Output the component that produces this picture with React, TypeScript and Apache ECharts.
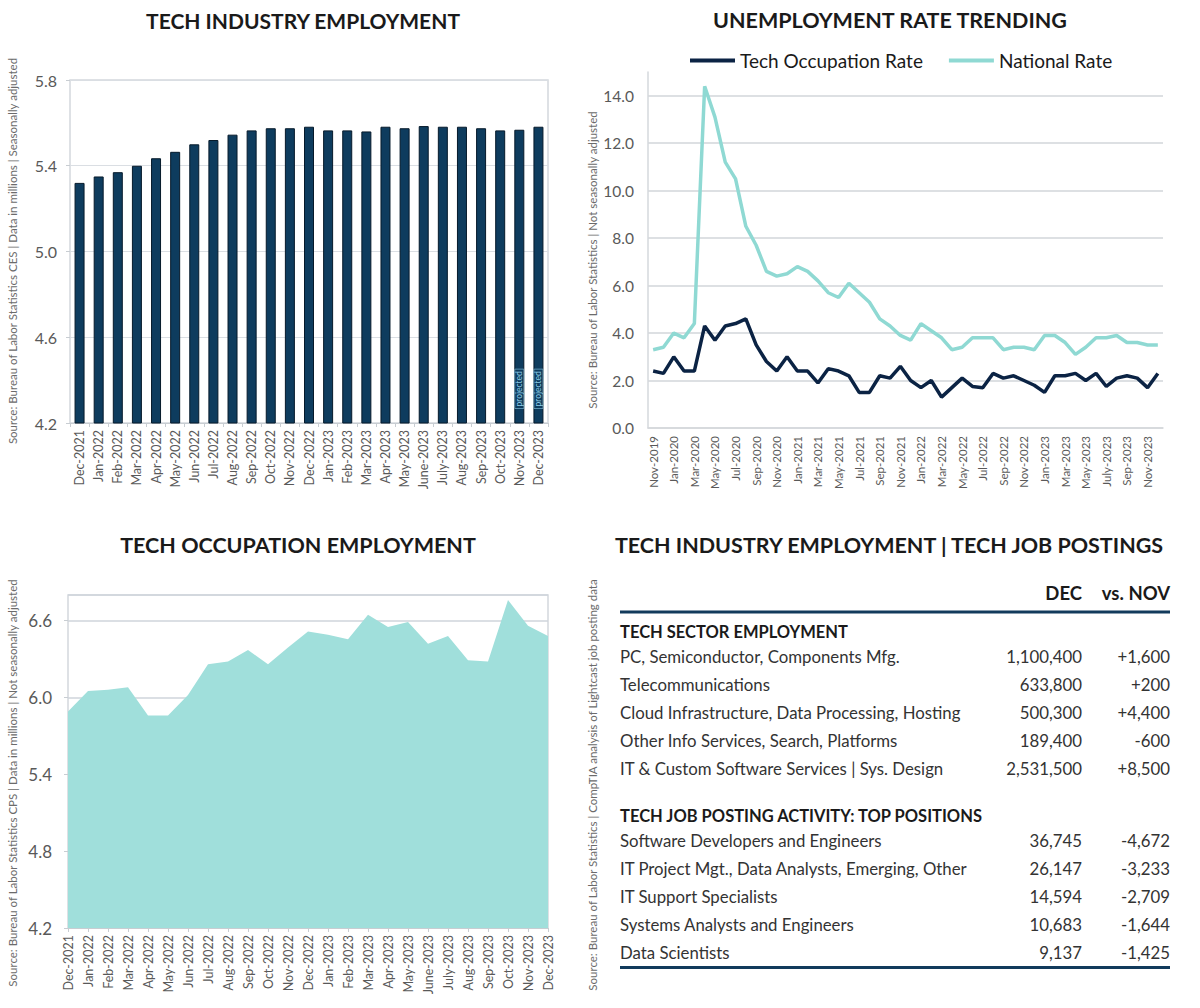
import React, { useEffect, useRef } from "react";
import * as echarts from "echarts";

// ---------- DATA ----------
const empMonths = [
  "Dec-2021", "Jan-2022", "Feb-2022", "Mar-2022", "Apr-2022", "May-2022", "Jun-2022", "Jul-2022",
  "Aug-2022", "Sep-2022", "Oct-2022", "Nov-2022", "Dec-2022", "Jan-2023", "Feb-2023", "Mar-2023",
  "Apr-2023", "May-2023", "June-2023", "July-2023", "Aug-2023", "Sep-2023", "Oct-2023", "Nov-2023", "Dec-2023",
];
const industryEmployment = [
  5.32, 5.35, 5.37, 5.4, 5.435, 5.465, 5.5, 5.52, 5.545, 5.565, 5.575, 5.575, 5.582,
  5.565, 5.565, 5.56, 5.582, 5.575, 5.585, 5.582, 5.582, 5.575, 5.565, 5.568, 5.582,
];
const projectedMonths = ["Nov-2023", "Dec-2023"];

const occupationEmployment = [
  5.89, 6.05, 6.06, 6.08, 5.86, 5.86, 6.02, 6.26, 6.28, 6.37, 6.26, 6.39, 6.515,
  6.49, 6.455, 6.645, 6.55, 6.59, 6.42, 6.48, 6.29, 6.28, 6.76, 6.56, 6.48,
];

const rateMonths = [
  "Nov-2019", "Dec-2019", "Jan-2020", "Feb-2020", "Mar-2020", "Apr-2020", "May-2020", "Jun-2020",
  "Jul-2020", "Aug-2020", "Sep-2020", "Oct-2020", "Nov-2020", "Dec-2020", "Jan-2021", "Feb-2021",
  "Mar-2021", "Apr-2021", "May-2021", "Jun-2021", "Jul-2021", "Aug-2021", "Sep-2021", "Oct-2021",
  "Nov-2021", "Dec-2021", "Jan-2022", "Feb-2022", "Mar-2022", "Apr-2022", "May-2022", "Jun-2022",
  "Jul-2022", "Aug-2022", "Sep-2022", "Oct-2022", "Nov-2022", "Dec-2022", "Jan-2023", "Feb-2023",
  "Mar-2023", "Apr-2023", "May-2023", "Jun-2023", "July-2023", "Aug-2023", "Sep-2023", "Oct-2023",
  "Nov-2023", "Dec-2023",
];
const techRate = [
  2.4, 2.3, 3.0, 2.4, 2.4, 4.3, 3.7, 4.3, 4.4, 4.6,
  3.5, 2.8, 2.4, 3.0, 2.4, 2.4, 1.9, 2.5, 2.4, 2.2,
  1.5, 1.5, 2.2, 2.1, 2.6, 2.0, 1.7, 2.0, 1.3, 1.7,
  2.1, 1.75, 1.7, 2.3, 2.1, 2.2, 2.0, 1.8, 1.5, 2.2,
  2.2, 2.3, 2.0, 2.3, 1.75, 2.1, 2.2, 2.1, 1.7, 2.3,
];
const nationalRate = [
  3.3, 3.4, 4.0, 3.8, 4.4, 14.4, 13.1, 11.2, 10.5, 8.5,
  7.7, 6.6, 6.4, 6.5, 6.8, 6.6, 6.2, 5.7, 5.5, 6.1,
  5.7, 5.3, 4.6, 4.3, 3.9, 3.7, 4.4, 4.1, 3.8, 3.3,
  3.4, 3.8, 3.8, 3.8, 3.3, 3.4, 3.4, 3.3, 3.9, 3.9,
  3.6, 3.1, 3.4, 3.8, 3.8, 3.9, 3.6, 3.6, 3.5, 3.5,
];

const sectorLabels = [
  "PC, Semiconductor, Components Mfg.",
  "Telecommunications",
  "Cloud Infrastructure, Data Processing, Hosting",
  "Other Info Services, Search, Platforms",
  "IT & Custom Software Services | Sys. Design",
];
const sectorDec = ["1,100,400", "633,800", "500,300", "189,400", "2,531,500"];
const sectorChange = ["+1,600", "+200", "+4,400", "-600", "+8,500"];

const postingLabels = [
  "Software Developers and Engineers",
  "IT Project Mgt., Data Analysts, Emerging, Other",
  "IT Support Specialists",
  "Systems Analysts and Engineers",
  "Data Scientists",
];
const postingDec = ["36,745", "26,147", "14,594", "10,683", "9,137"];
const postingChange = ["-4,672", "-3,233", "-2,709", "-1,644", "-1,425"];

// ---------- STYLE ----------
const FONT = "Lato, 'Open Sans', sans-serif";
const NAVY = "#0e3c5e";
const DARK = "#0b2344";
const TEAL = "#8fd9d3";
const AREA = "#a0dfdb";
const AXIS_TXT = "#595959";
const GRIDLINE = "#dadee3";

const title = (text: string, x: number, y: number, size = 21) => ({
  type: "text",
  x,
  y,
  style: {
    text,
    fontFamily: FONT,
    fontWeight: "bold",
    fontSize: size,
    fill: "#1a1a1a",
    textAlign: "center",
    textVerticalAlign: "middle",
  },
});

const source = (text: string, x: number, y: number) => ({
  type: "text",
  x,
  y,
  rotation: Math.PI / 2,
  style: {
    text,
    fontFamily: FONT,
    fontSize: 11.5,
    fill: "#6b6b6b",
    textAlign: "center",
    textVerticalAlign: "middle",
  },
});

const cell = (text: string, x: number, y: number, align: string, bold = false, size = 16.8) => ({
  type: "text",
  x,
  y,
  style: {
    text,
    fontFamily: FONT,
    fontWeight: bold ? "bold" : "normal",
    fontSize: size,
    fill: bold ? "#1a1a1a" : "#333333",
    textAlign: align,
    textVerticalAlign: "middle",
  },
});

function buildTable() {
  const L = 620;
  const R1 = 1082;
  const R2 = 1170;
  const els: any[] = [];
  els.push(cell("DEC", R1, 593, "right", true, 18.5));
  els.push(cell("vs. NOV", R2, 593, "right", true, 18.5));
  els.push({ type: "rect", shape: { x: L, y: 610.5, width: R2 - L, height: 3 }, style: { fill: "#123b5c" } });
  els.push(cell("TECH SECTOR EMPLOYMENT", L, 632, "left", true, 16.5));
  sectorLabels.forEach((lab, i) => {
    const y = 656 + i * 28;
    els.push(cell(lab, L, y, "left"));
    els.push(cell(sectorDec[i], R1, y, "right"));
    els.push(cell(sectorChange[i], R2, y, "right"));
  });
  els.push(cell("TECH JOB POSTING ACTIVITY: TOP POSITIONS", L, 816, "left", true, 16.5));
  postingLabels.forEach((lab, i) => {
    const y = 840 + i * 28.2;
    els.push(cell(lab, L, y, "left"));
    els.push(cell(postingDec[i], R1, y, "right"));
    els.push(cell(postingChange[i], R2, y, "right"));
  });
  els.push({ type: "rect", shape: { x: L, y: 966, width: R2 - L, height: 3 }, style: { fill: "#123b5c" } });
  return els;
}

export default function App() {
  const ref = useRef<HTMLDivElement>(null);

  useEffect(() => {
    if (!ref.current) return;
    const chart = echarts.init(ref.current, undefined, { renderer: "svg" });

    const barData = industryEmployment.map((v, i) => {
      if (projectedMonths.includes(empMonths[i])) {
        return {
          value: v,
          label: {
            show: true,
            position: "insideBottom",
            distance: 15,
            rotate: 90,
            align: "left",
            verticalAlign: "middle",
            formatter: "projected",
            fontSize: 8.5,
            fontFamily: FONT,
            color: "#8ccbe6",
            borderColor: "#8ccbe6",
            borderWidth: 0.6,
            padding: [0, 2],
          },
        };
      }
      return v;
    });

    const fmt1 = (v: number) => v.toFixed(1);

    const option: any = {
      animation: false,
      backgroundColor: "#ffffff",
      textStyle: { fontFamily: FONT },
      legend: {
        data: ["Tech Occupation Rate", "National Rate"],
        left: 685,
        top: 46,
        icon: "rect",
        itemWidth: 45,
        itemHeight: 4,
        itemGap: 26,
        textStyle: { fontFamily: FONT, fontSize: 19, color: "#1a1a1a" },
      },
      grid: [
        { left: 70, top: 80, width: 478, height: 343, show: true, borderColor: "#d3d8dd", borderWidth: 1.5, containLabel: false },
        { left: 648, top: 72, width: 515, height: 356, containLabel: false },
        { left: 68, top: 595, width: 480, height: 333, show: true, borderColor: "#d3d8dd", borderWidth: 1.5, containLabel: false },
      ],
      xAxis: [
        {
          type: "category",
          gridIndex: 0,
          data: empMonths,
          axisLine: { lineStyle: { color: "#c8cdd2" } },
          axisTick: { show: true, length: 4, lineStyle: { color: "#c8cdd2" } },
          axisLabel: { rotate: 90, interval: 0, fontSize: 12.5, color: AXIS_TXT, fontFamily: FONT, margin: 7 },
        },
        {
          type: "category",
          gridIndex: 1,
          data: rateMonths,
          boundaryGap: true,
          axisLine: { lineStyle: { color: "#d5d8dc", width: 1.5 } },
          axisTick: { show: false },
          axisLabel: { rotate: 90, interval: 1, fontSize: 11.5, color: AXIS_TXT, fontFamily: FONT, margin: 8 },
        },
        {
          type: "category",
          gridIndex: 2,
          data: empMonths,
          boundaryGap: false,
          axisLine: { lineStyle: { color: "#c8cdd2" } },
          axisTick: { show: true, length: 4, lineStyle: { color: "#c8cdd2" } },
          axisLabel: { rotate: 90, interval: 0, fontSize: 12.5, color: AXIS_TXT, fontFamily: FONT, margin: 7 },
        },
      ],
      yAxis: [
        {
          type: "value",
          gridIndex: 0,
          min: 4.2,
          max: 5.8,
          interval: 0.4,
          axisLine: { show: false },
          axisTick: { show: true, length: 4, lineStyle: { color: "#c8cdd2" } },
          splitLine: { lineStyle: { color: GRIDLINE } },
          axisLabel: { formatter: fmt1, fontSize: 16, color: AXIS_TXT, fontFamily: FONT, margin: 13 },
        },
        {
          type: "value",
          gridIndex: 1,
          min: 0,
          max: 15,
          interval: 2,
          axisLine: { show: true, lineStyle: { color: "#d5d8dc", width: 1.5 } },
          axisTick: { show: false },
          splitLine: { show: true, showMaxLine: false, lineStyle: { color: "#d2d6da", width: 1.5 } },
          axisLabel: { formatter: fmt1, showMaxLabel: false, fontSize: 15.5, color: AXIS_TXT, fontFamily: FONT, margin: 14 },
        },
        {
          type: "value",
          gridIndex: 2,
          min: 4.2,
          max: 6.8,
          interval: 0.6,
          axisLine: { show: false },
          axisTick: { show: true, length: 4, lineStyle: { color: "#c8cdd2" } },
          splitLine: { lineStyle: { color: "#cfd5db", width: 1.5 } },
          axisLabel: { formatter: fmt1, showMaxLabel: false, fontSize: 17, color: AXIS_TXT, fontFamily: FONT, margin: 16 },
        },
      ],
      series: [
        {
          name: "Tech Industry Employment",
          type: "bar",
          xAxisIndex: 0,
          yAxisIndex: 0,
          data: barData,
          barWidth: 10,
          itemStyle: { color: NAVY, borderColor: "#061a2b", borderWidth: 1 },
        },
        {
          name: "Tech Occupation Rate",
          type: "line",
          xAxisIndex: 1,
          yAxisIndex: 1,
          data: techRate,
          symbol: "none",
          color: DARK,
          lineStyle: { color: DARK, width: 3.5 },
          z: 3,
        },
        {
          name: "National Rate",
          type: "line",
          xAxisIndex: 1,
          yAxisIndex: 1,
          data: nationalRate,
          symbol: "none",
          color: TEAL,
          lineStyle: { color: TEAL, width: 3.5 },
          z: 2,
        },
        {
          name: "Tech Occupation Employment",
          type: "line",
          xAxisIndex: 2,
          yAxisIndex: 2,
          data: occupationEmployment,
          symbol: "none",
          lineStyle: { width: 0, color: AREA },
          areaStyle: { color: AREA, opacity: 1 },
        },
      ],
      graphic: [
        title("TECH INDUSTRY EMPLOYMENT", 303, 20, 21),
        title("UNEMPLOYMENT RATE TRENDING", 890, 20, 21.5),
        title("TECH OCCUPATION EMPLOYMENT", 298, 545, 21.5),
        title("TECH INDUSTRY EMPLOYMENT | TECH JOB POSTINGS", 889, 545, 21.5),
        source("Source: Bureau of Labor Statistics CES | Data in millions | Seasonally adjusted", 12, 251),
        source("Source: Bureau of Labor Statistics | Not seasonally adjusted", 592, 260),
        source("Source: Bureau of Labor Statistics CPS | Data in millions | Not seasonally adjusted", 12, 783),
        source("Source: Bureau of Labor Statistics | CompTIA analysis of Lightcast job posting data", 592, 785),
        ...buildTable(),
      ],
    };

    chart.setOption(option);
    return () => chart.dispose();
  }, []);

  return (
    <div
      ref={ref}
      style={{ position: "absolute", left: 0, top: 0, width: 1200, height: 1008, background: "#ffffff" }}
    />
  );
}
